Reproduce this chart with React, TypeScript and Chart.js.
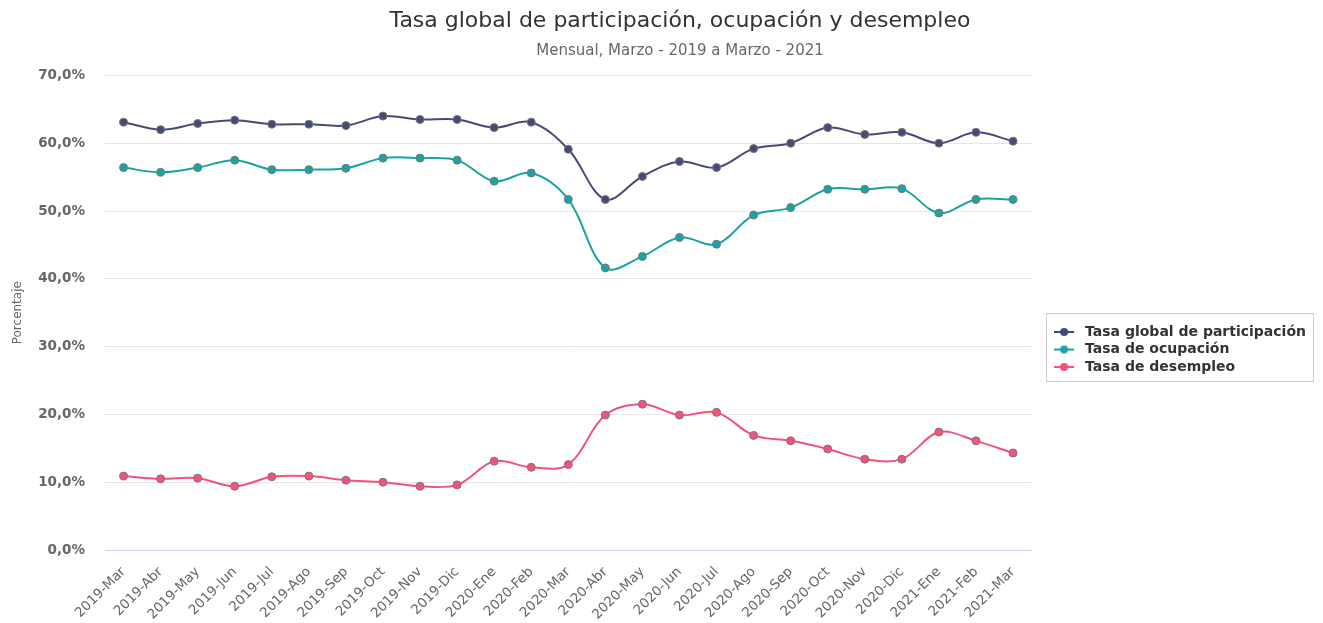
import React, { useEffect, useRef } from "react";
import { Chart, registerables } from "chart.js";

Chart.register(...registerables);

const categories = [
  "2019-Mar", "2019-Abr", "2019-May", "2019-Jun", "2019-Jul", "2019-Ago", "2019-Sep", "2019-Oct", "2019-Nov", "2019-Dic",
  "2020-Ene", "2020-Feb", "2020-Mar", "2020-Abr", "2020-May", "2020-Jun", "2020-Jul", "2020-Ago", "2020-Sep", "2020-Oct",
  "2020-Nov", "2020-Dic", "2021-Ene", "2021-Feb", "2021-Mar",
];

const participacion = [
  63.1, 62.0, 62.9, 63.4, 62.8, 62.8, 62.6, 64.0, 63.5, 63.5,
  62.3, 63.1, 59.1, 51.7, 55.1, 57.3, 56.4, 59.2, 60.0, 62.3,
  61.3, 61.6, 60.0, 61.6, 60.3,
];

const ocupacion = [
  56.4, 55.7, 56.4, 57.5, 56.1, 56.1, 56.3, 57.8, 57.8, 57.5,
  54.4, 55.6, 51.7, 41.6, 43.3, 46.1, 45.1, 49.4, 50.5, 53.2,
  53.2, 53.3, 49.7, 51.7, 51.7,
];

const desempleo = [
  10.9, 10.5, 10.6, 9.4, 10.8, 10.9, 10.3, 10.0, 9.4, 9.6,
  13.1, 12.2, 12.6, 19.9, 21.5, 19.9, 20.3, 16.9, 16.1, 14.9,
  13.4, 13.4, 17.4, 16.1, 14.3,
];

const yTicks = [0, 10, 20, 30, 40, 50, 60, 70];

const seriesNames = ["Tasa global de participación", "Tasa de ocupación", "Tasa de desempleo"];
const seriesColors = ["#464a77", "#19a3a3", "#f4527a"];

const FONT = "'DejaVu Sans', sans-serif";

function makeSymbol(color: string): HTMLCanvasElement {
  const c = document.createElement("canvas");
  c.width = 24;
  c.height = 10;
  const ctx = c.getContext("2d")!;
  ctx.strokeStyle = color;
  ctx.lineWidth = 2;
  ctx.beginPath();
  ctx.moveTo(0, 5);
  ctx.lineTo(20, 5);
  ctx.stroke();
  ctx.beginPath();
  ctx.arc(10, 5, 4, 0, Math.PI * 2);
  ctx.fillStyle = color;
  ctx.fill();
  return c;
}

const legendBorder = {
  id: "legendBorder",
  afterDraw(chart: any) {
    const boxes = chart.legend?.legendHitBoxes;
    if (!boxes || !boxes.length) return;
    let l = Infinity, t = Infinity, r = -Infinity, b = -Infinity;
    for (const h of boxes) {
      l = Math.min(l, h.left);
      t = Math.min(t, h.top);
      r = Math.max(r, h.left + h.width);
      b = Math.max(b, h.top + h.height);
    }
    const ctx = chart.ctx;
    ctx.save();
    ctx.strokeStyle = "#cccccc";
    ctx.lineWidth = 1;
    ctx.strokeRect(Math.round(l - 8) + 0.5, Math.round(t - 12) + 0.5, Math.round(r - l + 15), Math.round(b - t + 19));
    ctx.restore();
  },
};

const shiftTitles = {
  id: "shiftTitles",
  afterLayout(chart: any) {
    for (const box of chart.boxes) {
      if (box.position === "top" && box.options && box.options.text !== undefined) {
        box.left += 20;
        box.right += 20;
      }
    }
  },
};

export default function App() {
  const ref = useRef<HTMLCanvasElement | null>(null);

  useEffect(() => {
    if (!ref.current) return;
    const data = [participacion, ocupacion, desempleo];
    const chart = new Chart(ref.current, {
      type: "line",
      data: {
        labels: categories,
        datasets: data.map((d, i) => ({
          label: seriesNames[i],
          data: d,
          borderColor: seriesColors[i],
          backgroundColor: seriesColors[i],
          pointBackgroundColor: seriesColors[i],
          pointBorderColor: "#777777",
          pointBorderWidth: 1,
          pointRadius: 4,
          borderWidth: 2,
          tension: 0.35,
          fill: false,
          pointStyle: "circle",
          yAxisID: "y",
        })),
      },
      options: {
        responsive: false,
        animation: false,
        layout: { padding: { left: 4, right: 7, top: 8, bottom: 0 } },
        plugins: {
          title: {
            display: true,
            text: "Tasa global de participación, ocupación y desempleo",
            color: "#333333",
            font: { family: FONT, size: 22, weight: "normal" },
            padding: { top: 0, bottom: 8 },
          },
          subtitle: {
            display: true,
            text: "Mensual, Marzo - 2019 a Marzo - 2021",
            color: "#666666",
            font: { family: FONT, size: 15, weight: "normal" },
            padding: { top: 0, bottom: 15 },
          },
          legend: {
            position: "right",
            maxWidth: 320,
            title: { display: true, text: " ", font: { size: 10 }, padding: { top: 0, bottom: 56 } },
            labels: {
              color: "#333333",
              font: { family: FONT, size: 14, weight: "bold" },
              usePointStyle: true,
              pointStyleWidth: 24,
              padding: 3.5,
              generateLabels(chart: any) {
                return chart.data.datasets.map((ds: any, i: number) => ({
                  text: ds.label,
                  fillStyle: seriesColors[i],
                  strokeStyle: seriesColors[i],
                  lineWidth: 0,
                  pointStyle: makeSymbol(seriesColors[i]),
                  datasetIndex: i,
                  hidden: false,
                  fontColor: "#333333",
                }));
              },
            },
          },
          tooltip: { enabled: false },
        },
        scales: {
          x: {
            offset: true,
            grid: { display: false, drawTicks: false },
            border: { display: true, color: "#ccd6eb", width: 1 },
            ticks: {
              color: "#666666",
              font: { family: FONT, size: 13.5 },
              minRotation: 45,
              maxRotation: 45,
              autoSkip: false,
              padding: 14,
            },
            afterFit: (axis: any) => {
              axis.height = 73;
            },
          },
          y: {
            min: yTicks[0],
            max: yTicks[yTicks.length - 1],
            afterBuildTicks: (axis: any) => {
              axis.ticks = yTicks.map((v) => ({ value: v }));
            },
            afterFit: (axis: any) => {
              axis.width = 101;
            },
            grid: { color: "#e6e6e6", drawTicks: false },
            border: { display: false },
            ticks: {
              color: "#666666",
              font: { family: FONT, size: 13.5, weight: "bold" },
              padding: 20,
              callback: (v: any) => Number(v).toFixed(1).replace(".", ",") + "%",
            },
            title: {
              display: true,
              text: "Porcentaje",
              color: "#666666",
              font: { family: FONT, size: 12 },
              padding: { top: 7, bottom: 12 },
            },
          },
          spacer: {
            type: "linear",
            position: "right",
            display: true,
            grid: { display: false, drawTicks: false },
            border: { display: false },
            ticks: { display: false },
            afterFit: (axis: any) => {
              axis.width = 19;
            },
          },
        },
      },
      plugins: [legendBorder, shiftTitles],
    });
    return () => chart.destroy();
  }, []);

  return (
    <div style={{ position: "absolute", left: 0, top: 0, width: 1323, height: 623, background: "#fff" }}>
      <canvas ref={ref} width={1323} height={623} />
    </div>
  );
}
